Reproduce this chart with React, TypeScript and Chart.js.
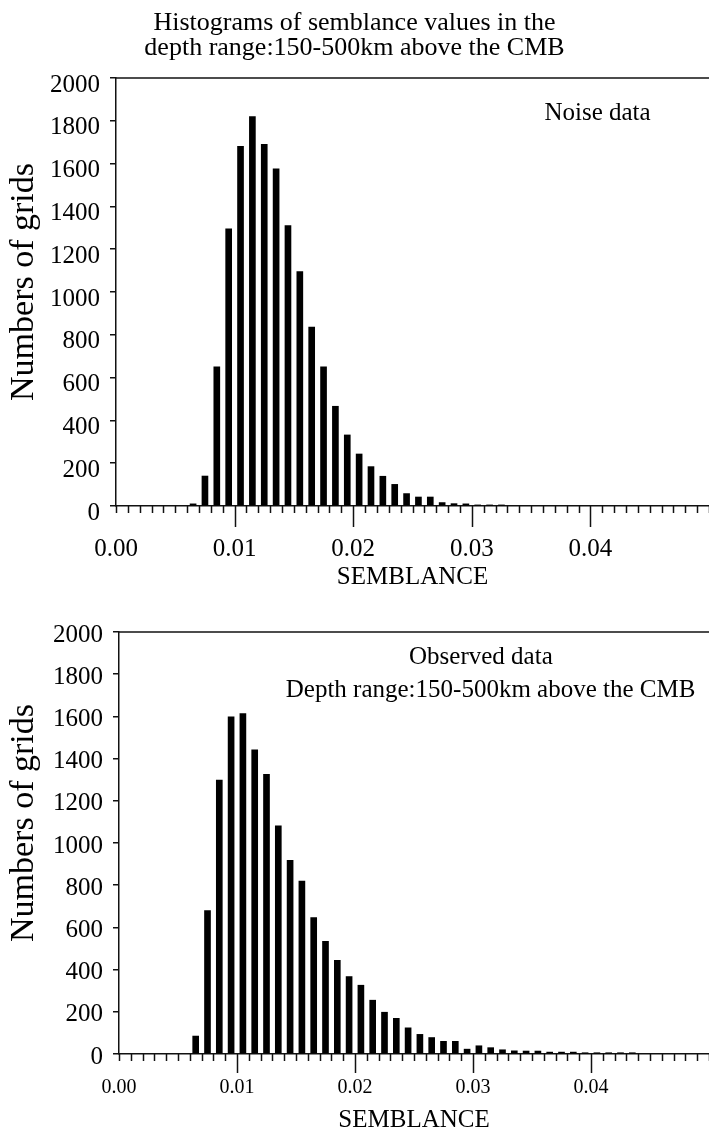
import React, { useEffect, useRef } from 'react';
import { Chart, registerables } from 'chart.js';

Chart.register(...registerables);

const FONT = '"Liberation Serif", "Times New Roman", Times, serif';

// ---- data ----
const noiseBins = [
  0.0065, 0.0075, 0.0085, 0.0095, 0.0105, 0.0115, 0.0125, 0.0135, 0.0145,
  0.0155, 0.0165, 0.0175, 0.0185, 0.0195, 0.0205, 0.0215, 0.0225, 0.0235,
  0.0245, 0.0255, 0.0265, 0.0275, 0.0285, 0.0295, 0.0305, 0.0315, 0.0325,
];
const noiseCounts = [
  10, 140, 650, 1295, 1680, 1820, 1690, 1575, 1310,
  1095, 836, 650, 466, 332, 243, 184, 139, 101,
  58, 42, 42, 16, 11, 10, 5, 5, 5,
];

const observedBins = [
  0.0065, 0.0075, 0.0085, 0.0095, 0.0105, 0.0115, 0.0125, 0.0135, 0.0145,
  0.0155, 0.0165, 0.0175, 0.0185, 0.0195, 0.0205, 0.0215, 0.0225, 0.0235,
  0.0245, 0.0255, 0.0265, 0.0275, 0.0285, 0.0295, 0.0305, 0.0315, 0.0325,
  0.0335, 0.0345, 0.0355, 0.0365, 0.0375, 0.0385, 0.0395, 0.0405, 0.0415,
  0.0425, 0.0435,
];
const observedCounts = [
  85, 680, 1298, 1598, 1613, 1442, 1326, 1081, 918,
  819, 647, 534, 444, 367, 326, 255, 198, 169,
  124, 93, 78, 60, 60, 23, 39, 30, 20,
  15, 14, 14, 9, 9, 9, 6, 6, 6,
  6, 6,
];

const xTickLabels = ['0.00', '0.01', '0.02', '0.03', '0.04'];
const xRange = [0, 0.05];
const yRange = [0, 2000];
const yStep = 200;

const mainTitle = ['Histograms of semblance values in the', 'depth range:150-500km above the CMB'];
const yAxisTitle = 'Numbers of grids';
const xAxisTitle = 'SEMBLANCE';

const noiseNotes = [{ text: 'Noise data', x: 0.0406, y: 1836 }];
const observedNotes = [
  { text: 'Observed data', x: 0.03067, y: 1881 },
  { text: 'Depth range:150-500km above the CMB', x: 0.03149, y: 1725 },
];

// ---- plugins ----
const framePlugin = {
  id: 'frameTicks',
  afterDatasetsDraw(chart: any, _args: any, opts: any) {
    const { ctx, chartArea } = chart;
    const xs = chart.scales.x;
    ctx.save();
    ctx.strokeStyle = '#111';
    ctx.lineWidth = 1.5;
    ctx.beginPath();
    ctx.moveTo(chartArea.left, chartArea.top);
    ctx.lineTo(chartArea.right, chartArea.top);
    ctx.stroke();
    const n = opts.count || 50;
    for (let i = 0; i <= n; i++) {
      const v = xs.min + ((xs.max - xs.min) * i) / n;
      const px = Math.round(xs.getPixelForValue(v)) + 0.5;
      const major = i > 0 && i < n && i % (opts.every || 10) === 0;
      const len = major ? opts.major : opts.minor;
      ctx.beginPath();
      ctx.moveTo(px, chartArea.bottom);
      ctx.lineTo(px, chartArea.bottom + len);
      ctx.stroke();
    }
    ctx.restore();
  },
};

const notesPlugin = {
  id: 'notes',
  afterDraw(chart: any, _args: any, opts: any) {
    const { ctx, chartArea } = chart;
    const xs = chart.scales.x;
    const ys = chart.scales.y;
    ctx.save();
    ctx.fillStyle = '#000';
    ctx.font = `${opts.size || 25}px ${FONT}`;
    ctx.textAlign = 'center';
    ctx.textBaseline = 'middle';
    (opts.items || []).forEach((it: any) => {
      ctx.fillText(it.text, xs.getPixelForValue(it.x), ys.getPixelForValue(it.y));
    });
    // vertical axis title
    if (opts.yTitle) {
      ctx.save();
      ctx.font = `${opts.yTitleSize}px ${FONT}`;
      ctx.translate(opts.yTitleX, (chartArea.top + chartArea.bottom) / 2 + opts.yTitleDy);
      ctx.rotate(-Math.PI / 2);
      ctx.fillText(opts.yTitle, 0, 0);
      ctx.restore();
    }
    ctx.restore();
  },
};

type Spec = {
  top: number;
  height: number;
  bins: number[];
  counts: number[];
  title?: string[];
  padTop: number;
  yWidth: number;
  xHeight: number;
  xTickSize: number;
  xTickGap: number;
  xTitlePadBottom: number;
  xTitleLineHeight: number;
  yLabelOffset: number;
  yTitleDy: number;
  notes: { text: string; x: number; y: number }[];
  minor: number;
  major: number;
};

function buildConfig(s: Spec): any {
  return {
    type: 'bar',
    data: {
      datasets: [
        {
          data: s.bins.map((x, i) => ({ x, y: s.counts[i] })),
          backgroundColor: '#000',
          borderWidth: 0,
          barThickness: 6,
        },
      ],
    },
    plugins: [framePlugin, notesPlugin],
    options: {
      animation: false,
      responsive: false,
      devicePixelRatio: 1,
      layout: { padding: { top: s.padTop, left: 0, right: 0, bottom: 0 } },
      plugins: {
        legend: { display: false },
        tooltip: { enabled: false },
        title: s.title
          ? {
              display: true,
              text: s.title,
              color: '#000',
              font: { family: FONT, size: 26, weight: 'normal', lineHeight: 0.98 },
              padding: { top: 10, bottom: 17 },
            }
          : { display: false },
        frameTicks: { count: 50, every: 10, minor: s.minor, major: s.major },
        notes: {
          items: s.notes,
          size: 25,
          yTitle: yAxisTitle,
          yTitleSize: 34,
          yTitleX: 24,
          yTitleDy: s.yTitleDy,
        },
      },
      scales: {
        x: {
          type: 'linear',
          min: xRange[0],
          max: xRange[1],
          offset: false,
          grid: { display: false, drawTicks: true, tickLength: s.xTickGap, offset: false },
          border: { display: true, color: '#111', width: 1.5 },
          ticks: {
            stepSize: 0.01,
            autoSkip: false,
            maxRotation: 0,
            padding: 0,
            color: '#000',
            font: { family: FONT, size: s.xTickSize },
            callback: (v: number) => {
              const i = Math.round(v * 100);
              return i < xTickLabels.length ? xTickLabels[i] : '';
            },
          },
          title: {
            display: true,
            text: xAxisTitle,
            color: '#000',
            font: { family: FONT, size: 25, lineHeight: s.xTitleLineHeight },
            padding: { top: 0, bottom: s.xTitlePadBottom },
          },
          afterFit: (sc: any) => {
            sc.height = s.xHeight;
          },
        },
        y: {
          min: yRange[0],
          max: yRange[1],
          grid: { display: true, drawOnChartArea: false, drawTicks: true, tickLength: 6, color: '#111', lineWidth: 1.5 },
          border: { display: true, color: '#111', width: 1.5 },
          ticks: {
            stepSize: yStep,
            padding: 10,
            labelOffset: s.yLabelOffset,
            color: '#000',
            font: { family: FONT, size: 25 },
            callback: (v: number) => String(v),
          },
          title: { display: false },
          afterFit: (sc: any) => {
            sc.width = s.yWidth;
          },
        },
      },
    },
  };
}

function Histogram({ spec }: { spec: Spec }) {
  const ref = useRef<HTMLCanvasElement>(null);
  useEffect(() => {
    const chart = new Chart(ref.current as HTMLCanvasElement, buildConfig(spec));
    return () => chart.destroy();
  }, []);
  return (
    <canvas
      ref={ref}
      width={709}
      height={spec.height}
      style={{ position: 'absolute', left: 0, top: spec.top, width: 709, height: spec.height }}
    />
  );
}

const topSpec: Spec = {
  top: 0,
  height: 600,
  bins: noiseBins,
  counts: noiseCounts,
  title: mainTitle,
  padTop: 0,
  yWidth: 116,
  xHeight: 94,
  xTickSize: 25,
  xTickGap: 28,
  xTitlePadBottom: 8,
  xTitleLineHeight: 1.2,
  yLabelOffset: 7,
  yTitleDy: -10,
  notes: noiseNotes,
  minor: 7,
  major: 21,
};

const bottomSpec: Spec = {
  top: 600,
  height: 533,
  bins: observedBins,
  counts: observedCounts,
  padTop: 32,
  yWidth: 119,
  xHeight: 79,
  xTickSize: 20,
  xTickGap: 22,
  xTitlePadBottom: 0,
  xTitleLineHeight: 1,
  yLabelOffset: 3,
  yTitleDy: -20,
  notes: observedNotes,
  minor: 7,
  major: 19,
};

export default function App() {
  return (
    <div style={{ position: 'absolute', left: 0, top: 0, width: 709, height: 1133, background: '#fff' }}>
      <Histogram spec={topSpec} />
      <Histogram spec={bottomSpec} />
    </div>
  );
}
